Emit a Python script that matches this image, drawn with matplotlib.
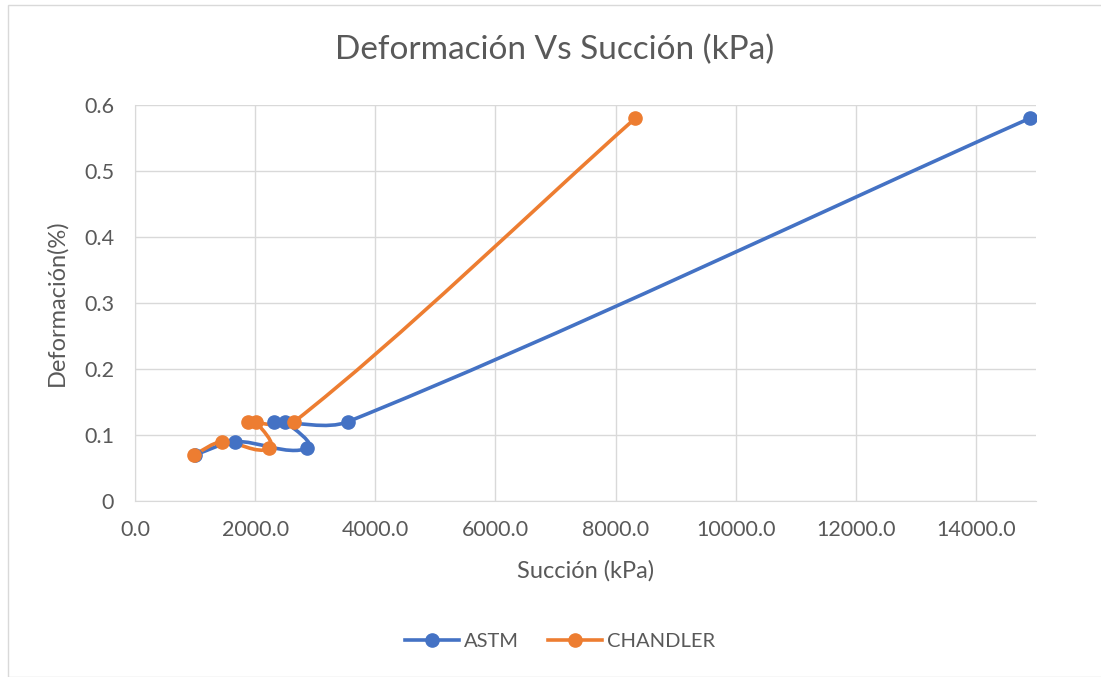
import numpy as np
import matplotlib.pyplot as plt
from matplotlib.path import Path
from matplotlib.patches import PathPatch, Rectangle
from matplotlib.lines import Line2D

# Data
astm_x = [1000, 1670, 2870, 2500, 2320, 3540, 14900]
astm_y = [0.07, 0.09, 0.08, 0.12, 0.12, 0.12, 0.58]
chandler_x = [980, 1450, 2235, 2010, 1885, 2650, 8330]
chandler_y = [0.07, 0.09, 0.08, 0.12, 0.12, 0.12, 0.58]

x_ticks = [0, 2000, 4000, 6000, 8000, 10000, 12000, 14000]
y_ticks = [0, 0.1, 0.2, 0.3, 0.4, 0.5, 0.6]

BLUE = '#4472C4'
ORANGE = '#ED7D31'
TEXT = '#595959'
plt.rcParams['font.family'] = ['Lato', 'DejaVu Sans']

# pixel scale of the plot area, used only to measure distances for smoothing
SX = 901 / 15000
SY = 396 / 0.6


def smooth_path(xs, ys, tension=0.45):
    """Smoothed line (bezier) with tangents scaled by segment length."""
    pts = np.column_stack([xs, ys]).astype(float)
    scale = np.array([SX, SY])
    n = len(pts)

    def tangent(i):
        a = pts[max(i - 1, 0)]
        b = pts[min(i + 1, n - 1)]
        d = (b - a)
        length = np.hypot(*(d * scale))
        return d / length if length else d

    verts = [tuple(pts[0])]
    codes = [Path.MOVETO]
    for i in range(n - 1):
        p1, p2 = pts[i], pts[i + 1]
        seg = np.hypot(*((p2 - p1) * scale))
        c1 = p1 + tangent(i) * seg * tension / 1.5
        c2 = p2 - tangent(i + 1) * seg * tension / 1.5
        verts += [tuple(c1), tuple(c2), tuple(p2)]
        codes += [Path.CURVE4] * 3
    return Path(verts, codes)


fig = plt.figure(figsize=(11.01, 6.77), dpi=100)
fig.patches.append(Rectangle((8 / 1101, 0), 1.2, 1 - 5 / 677,
                             transform=fig.transFigure, fill=False,
                             edgecolor='#d9d9d9', linewidth=1))
ax = fig.add_axes([135 / 1101, 1 - 501 / 677, 901 / 1101, 396 / 677])

for xs, ys, color in [(astm_x, astm_y, BLUE), (chandler_x, chandler_y, ORANGE)]:
    ax.add_patch(PathPatch(smooth_path(xs, ys), facecolor='none',
                           edgecolor=color, linewidth=2.6,
                           capstyle='round', joinstyle='round', zorder=3))
    ax.plot(xs, ys, linestyle='none', marker='o', markersize=9.5,
            color=color, zorder=4)

ax.set_xlim(0, 15000)
ax.set_ylim(0, 0.6)
ax.set_xticks(x_ticks)
ax.set_yticks(y_ticks)
ax.set_xticklabels([f'{v:.1f}' for v in x_ticks])
ax.set_yticklabels(['0'] + [f'{v:.1f}' for v in y_ticks[1:]])
ax.grid(True, color='#d9d9d9', linewidth=1)
ax.set_axisbelow(True)
for s in ['top', 'right']:
    ax.spines[s].set_visible(False)
ax.spines['bottom'].set_color('#d9d9d9')
ax.spines['left'].set_color('#d9d9d9')
ax.tick_params(length=0, labelsize=15.5, colors=TEXT)
ax.tick_params(axis='x', pad=14)
ax.tick_params(axis='y', pad=15)

fig.text(555 / 1101, 1 - 50 / 677, 'Deformación Vs Succión (kPa)',
         fontsize=24, color=TEXT, ha='center', va='center')
ax.set_xlabel('Succión (kPa)', fontsize=17, color=TEXT, labelpad=14)
ax.set_ylabel('Deformación(%)', fontsize=17, color=TEXT, labelpad=12)

handles = [Line2D([], [], color=BLUE, marker='o', markersize=9.5, linewidth=2.6),
           Line2D([], [], color=ORANGE, marker='o', markersize=9.5, linewidth=2.6)]
fig.legend(handles, ['ASTM', 'CHANDLER'], loc='center',
           bbox_to_anchor=(560 / 1101, 1 - 641 / 677), ncol=2, frameon=False,
           fontsize=14.5, labelcolor=TEXT, handlelength=2.7,
           handletextpad=0.25, columnspacing=1.4)

fig.savefig('out.png', dpi=100)
